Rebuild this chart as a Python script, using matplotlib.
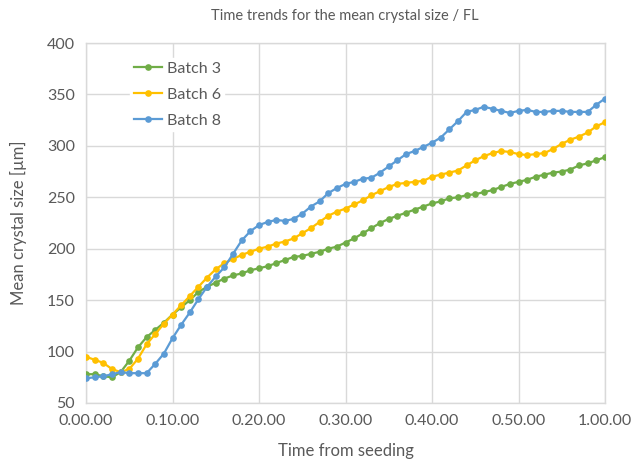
import matplotlib
matplotlib.use("Agg")
import matplotlib.pyplot as plt
from matplotlib.ticker import FixedLocator, FixedFormatter

plt.rcParams['font.family'] = ['Lato', 'DejaVu Sans']

# time from seeding in minutes
minutes = list(range(0, 61))

batch3 = [78, 78, 76, 75, 80, 91, 104, 114, 121, 128,
          136, 143, 150, 158, 163, 167, 171, 174, 176, 179,
          181, 183, 186, 189, 192, 193, 195, 197, 200, 202,
          206, 210, 215, 220, 225, 229, 232, 235, 238, 241,
          244, 246, 249, 250, 252, 253, 255, 257, 260, 263,
          265, 267, 270, 272, 274, 275, 277, 281, 283, 286, 289]

batch6 = [95, 92, 89, 83, 80, 83, 93, 107, 117, 127,
          136, 145, 154, 163, 172, 180, 186, 190, 194, 197,
          200, 202, 205, 207, 210, 215, 220, 226, 232, 236,
          239, 243, 247, 252, 256, 260, 263, 264, 265, 266,
          270, 272, 274, 276, 281, 286, 290, 293, 295, 294,
          292, 291, 292, 293, 297, 302, 306, 309, 313, 319, 323]

batch8 = [74, 75, 76, 78, 80, 79, 79, 79, 88, 98,
          113, 126, 138, 151, 163, 173, 182, 195, 208, 217,
          223, 226, 228, 227, 229, 234, 241, 246, 254, 259,
          263, 265, 268, 269, 274, 280, 286, 292, 295, 299,
          303, 308, 316, 324, 333, 335, 338, 336, 334, 332,
          334, 335, 333, 333, 334, 334, 333, 333, 333, 340, 346]

x_ticks = [0, 10, 20, 30, 40, 50, 60]
x_tick_labels = ["0.00.00", "0.10.00", "0.20.00", "0.30.00", "0.40.00", "0.50.00", "1.00.00"]
y_ticks = [50, 100, 150, 200, 250, 300, 350, 400]

series = [("Batch 3", batch3, "#70AD47"),
          ("Batch 6", batch6, "#FFC000"),
          ("Batch 8", batch8, "#5B9BD5")]

fig = plt.figure(figsize=(6.33, 4.66), dpi=100)
ax = fig.add_axes([86/633, 1 - 403/466, (605-86)/633, (403-43)/466])

for name, vals, col in series:
    ax.plot(minutes, vals, color=col, lw=1.6, marker='o', ms=4.8,
            markeredgewidth=0, label=name, zorder=3)

ax.set_xlim(0, 60)
ax.set_ylim(50, 400)
ax.xaxis.set_major_locator(FixedLocator(x_ticks))
ax.xaxis.set_major_formatter(FixedFormatter(x_tick_labels))
ax.yaxis.set_major_locator(FixedLocator(y_ticks))
ax.grid(True, color="#D9D9D9", lw=1.0, zorder=0)
for s in ax.spines.values():
    s.set_color("#D9D9D9")
    s.set_linewidth(1.0)
ax.tick_params(length=0, labelsize=11.5, labelcolor="#595959", pad=8)
ax.set_axisbelow(True)

ax.set_xlabel("Time from seeding", fontsize=12, color="#595959", labelpad=11)
ax.set_ylabel("Mean crystal size [µm]", fontsize=12, color="#595959", labelpad=14)
fig.text(345/633, 1 - 16/466, "Time trends for the mean crystal size / FL",
         ha='center', va='center', fontsize=10.5, color="#595959")

leg = ax.legend(loc='upper left', bbox_to_anchor=(0.07, 0.98), frameon=True,
                fontsize=11.5, handlelength=1.8, handletextpad=0.3,
                labelspacing=0.75, borderpad=0.2)
leg.get_frame().set_edgecolor('white')
leg.get_frame().set_facecolor('white')
leg.get_frame().set_alpha(1.0)
for t in leg.get_texts():
    t.set_color("#595959")

fig.savefig("out.png", dpi=100)
